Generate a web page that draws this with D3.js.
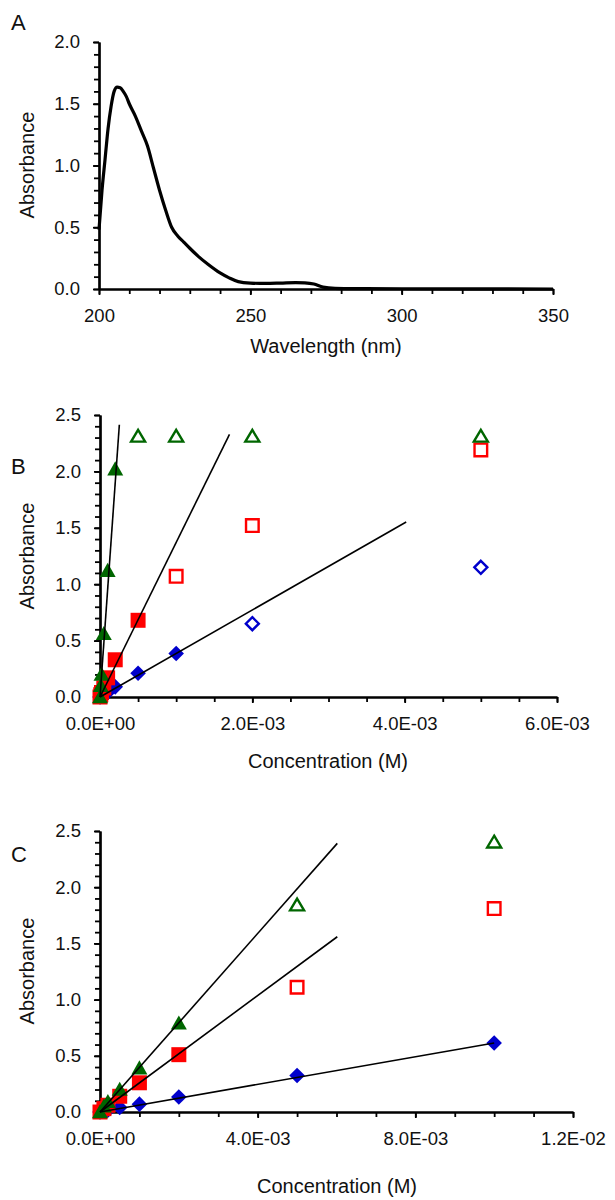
<!DOCTYPE html>
<html>
<head>
<meta charset="utf-8">
<script src="https://cdn.jsdelivr.net/npm/d3@7"></script>
<style>
  body { margin: 0; background: #fff; }
  svg text { font-family: "Liberation Sans", Arial, sans-serif; fill: #111; }
</style>
</head>
<body>
<svg id="fig" width="615" height="1200"></svg>
<script>
// ---- panel A: UV spectrum
var wavelength = [200, 201, 202, 203, 204, 205, 206, 207, 208, 209, 210, 212, 214, 216, 218, 220, 222, 224, 226, 228,
                  230, 233, 236, 240, 243, 246, 250, 255, 260, 265, 268, 271, 274, 278, 285, 300, 350];
var absA = [0.48, 0.80, 1.05, 1.30, 1.48, 1.60, 1.635, 1.63, 1.60, 1.56, 1.50, 1.40, 1.28, 1.16, 0.98, 0.80, 0.64, 0.50, 0.43, 0.38,
            0.33, 0.26, 0.20, 0.13, 0.09, 0.06, 0.048, 0.045, 0.048, 0.052, 0.05, 0.04, 0.015, 0.005, 0.003, 0.002, 0.0];

// ---- panel B: calibration, series order blue / red / green
var concB = [0, 1e-5, 2e-5, 5e-5, 1e-4, 2e-4, 5e-4, 1e-3, 2e-3, 5e-3];
var blueB = [0.0, 0.005, 0.01, 0.02, 0.04, 0.09, 0.21, 0.385, 0.65, 1.15];
var redB = [0.0, 0.02, 0.04, 0.08, 0.17, 0.33, 0.68, 1.07, 1.52, 2.19];
var greenB = [0.0, 0.1, 0.2, 0.56, 1.12, 2.02, 2.31, 2.31, 2.31, 2.31];
var fitPtsB = [8, 7, 6];              // first n points used in the fit (filled markers)
var slopeB = [386, 1370, 9500];
var fitEndB = [4.02e-3, 1.7e-3, 2.54e-4];

// ---- panel C
var concC = [0, 1e-4, 2e-4, 5e-4, 1e-3, 2e-3, 5e-3, 1e-2];
var blueC = [0.0, 0.01, 0.015, 0.04, 0.07, 0.133, 0.325, 0.614];
var redC = [0.0, 0.03, 0.06, 0.14, 0.26, 0.51, 1.11, 1.81];
var greenC = [0.0, 0.05, 0.09, 0.2, 0.39, 0.79, 1.84, 2.40];
var fitPtsC = [8, 6, 6];
var slopeC = [61.4, 259, 397];
var fitEndC = [1e-2, 6.02e-3, 6.02e-3];

var colors = ["#0000CC", "#FF0000", "#006600"];
var shapes = ["diamond", "square", "triangle"];

var svg = d3.select("#fig");

function sciFmt(v) {
  if (v === 0) return "0.0E+00";
  var e = Math.floor(Math.log10(v) + 1e-9);
  var m = v / Math.pow(10, e);
  return m.toFixed(1) + "E" + (e < 0 ? "-" : "+") + String(Math.abs(e)).padStart(2, "0");
}

function markerPath(shape, open) {
  var s = open ? 6.5 : 7.8;
  if (shape == "diamond") return "M0," + (-s) + "L" + s + ",0L0," + s + "L" + (-s) + ",0Z";
  if (shape == "square") { var q = open ? 6.3 : 7.5; return "M" + (-q) + "," + (-q) + "h" + 2*q + "v" + 2*q + "h" + (-2*q) + "Z"; }
  var w = open ? 7 : 8;
  return "M0," + (-s) + "L" + w + "," + (s*0.8) + "L" + (-w) + "," + (s*0.8) + "Z";
}

// draw axes with major + minor ticks, Excel style
function drawAxes(g, x, y, xMajor, xMinor, yMajor, yMinor, xFmt) {
  var y0 = y.range()[0];
  var x0 = x.range()[0];

  g.append("g").attr("class", "minor")
    .attr("transform", "translate(0," + y0 + ")")
    .call(d3.axisBottom(x).tickValues(xMinor).tickSize(5).tickSizeOuter(0).tickFormat(""));
  g.append("g").attr("class", "minor")
    .attr("transform", "translate(" + x0 + ",0)")
    .call(d3.axisLeft(y).tickValues(yMinor).tickSize(5).tickSizeOuter(0).tickFormat(""));

  g.append("g").attr("class", "major")
    .attr("transform", "translate(0," + y0 + ")")
    .call(d3.axisBottom(x).tickValues(xMajor).tickSize(6).tickSizeOuter(0).tickPadding(14).tickFormat(xFmt));
  g.append("g").attr("class", "major")
    .attr("transform", "translate(" + x0 + ",0)")
    .call(d3.axisLeft(y).tickValues(yMajor).tickSize(6).tickSizeOuter(0).tickPadding(13).tickFormat(d3.format(".1f")));

  g.selectAll(".domain").attr("stroke", "#000").attr("stroke-width", 2.2);
  g.selectAll(".tick line").attr("stroke", "#000").attr("stroke-width", 1.8);
  g.selectAll(".tick text").attr("font-size", 18.5).attr("fill", "#111")
    .style("font-family", "'Liberation Sans', Arial, sans-serif");
}

function yTitle(cx, cy) {
  svg.append("text")
    .attr("transform", "translate(" + cx + "," + cy + ") rotate(-90)")
    .attr("text-anchor", "middle")
    .attr("font-size", 20)
    .text("Absorbance");
}

function xTitle(cx, by, label) {
  svg.append("text")
    .attr("x", cx).attr("y", by)
    .attr("text-anchor", "middle")
    .attr("font-size", 20)
    .text(label);
}

function letter(txt, by) {
  svg.append("text").attr("x", 11).attr("y", by).attr("font-size", 22).text(txt);
}

function range(a, b, step) {
  var out = [];
  for (var i = 0; a + i * step <= b + step * 1e-6; i++) out.push(+(a + i * step).toPrecision(10));
  return out;
}

// ---------------- panel A
var xA = d3.scaleLinear().domain([200, 350]).range([99, 553]);
var yA = d3.scaleLinear().domain([0, 2]).range([289, 42]);
var gA = svg.append("g");
drawAxes(gA, xA, yA, [200, 250, 300, 350], range(200, 350, 10), [0, 0.5, 1, 1.5, 2], range(0, 2, 0.1), d3.format("d"));

var spectrum = wavelength.map(function(w, i) { return {w: w, a: absA[i]}; });
gA.append("path")
  .datum(spectrum)
  .attr("fill", "none")
  .attr("stroke", "#000")
  .attr("stroke-width", 3.2)
  .attr("stroke-linejoin", "round")
  .attr("d", d3.line().curve(d3.curveMonotoneX)
    .x(function(d) { return xA(d.w); })
    .y(function(d) { return yA(d.a); }));

letter("A", 30);
yTitle(34, 165);
xTitle(326, 353, "Wavelength (nm)");

// ---------------- calibration panels
function calib(xs, ys, conc, series, nFit, slopes, ends, xMajor, xMinor) {
  var g = svg.append("g");
  drawAxes(g, xs, ys, xMajor, xMinor, [0, 0.5, 1, 1.5, 2, 2.5], range(0, 2.5, 0.1), sciFmt);

  series.forEach(function(vals, s) {
    var pts = conc.map(function(c, i) { return {c: c, a: vals[i], open: i >= nFit[s]}; });
    g.append("g").selectAll("path")
      .data(pts)
      .enter()
      .append("path")
        .attr("transform", function(d) { return "translate(" + xs(d.c) + "," + ys(d.a) + ")"; })
        .attr("d", function(d) { return markerPath(shapes[s], d.open); })
        .attr("fill", function(d) { return d.open ? "none" : colors[s]; })
        .attr("stroke", function(d) { return d.open ? colors[s] : "none"; })
        .attr("stroke-width", 2.4);
  });

  // linear fits
  slopes.forEach(function(m, s) {
    g.append("line")
      .attr("x1", xs(0)).attr("y1", ys(0))
      .attr("x2", xs(ends[s])).attr("y2", ys(m * ends[s]))
      .attr("stroke", "#000")
      .attr("stroke-width", 1.6);
  });
}

var xB = d3.scaleLinear().domain([0, 6e-3]).range([100, 557]);
var yB = d3.scaleLinear().domain([0, 2.5]).range([697, 415]);
calib(xB, yB, concB, [blueB, redB, greenB], fitPtsB, slopeB, fitEndB, [0, 2e-3, 4e-3, 6e-3], range(0, 6e-3, 5e-4));
letter("B", 474);
yTitle(34, 556);
xTitle(328, 768, "Concentration (M)");

var xC = d3.scaleLinear().domain([0, 1.2e-2]).range([100, 573]);
var yC = d3.scaleLinear().domain([0, 2.5]).range([1112, 831]);
calib(xC, yC, concC, [blueC, redC, greenC], fitPtsC, slopeC, fitEndC, [0, 4e-3, 8e-3, 1.2e-2], range(0, 1.2e-2, 1e-3));
letter("C", 862);
yTitle(34, 971);
xTitle(337, 1193, "Concentration (M)");
</script>
</body>
</html>
